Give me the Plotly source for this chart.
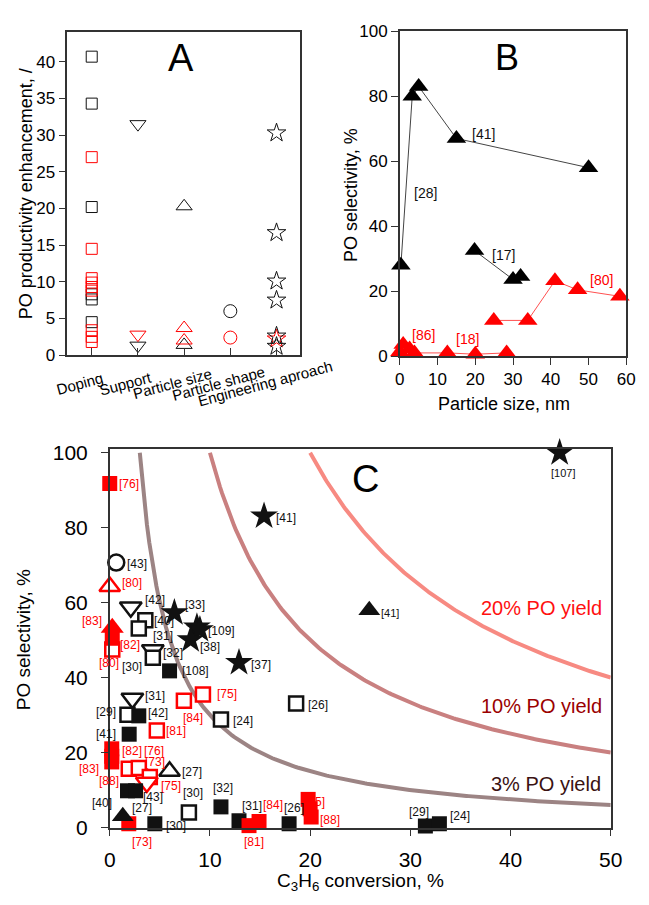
import numpy as np
import plotly.graph_objects as go

FONT = "Liberation Sans, Arial, sans-serif"
RED = "#ff0000"
BLK = "#111111"
AX = "#333333"
W, H = 649, 905

# ---------------- Panel A data ----------------
cats = ["Doping", "Support", "Particle size", "Particle shape", "Engineering aproach"]
a_doping_black = [40.7, 34.3, 20.2, 8.3, 7.6, 4.5]
a_doping_red = [27.0, 14.5, 10.5, 9.9, 9.3, 8.8, 3.4, 2.5, 1.8]
a_support_black = [31.5, 1.3]
a_support_red = [2.8]
a_size_black = [20.3, 1.4]
a_size_red = [3.7, 2.0]
a_shape_black = [6.0]
a_shape_red = [2.4]
a_eng_black = [30.3, 16.7, 10.1, 7.5, 2.6, 1.2]
a_eng_red = [2.2]

# ---------------- Panel B data ----------------
b_k1_x = [0.3, 3.3, 5.0, 15.0, 50.0]
b_k1_y = [28.0, 80.0, 83.0, 67.0, 58.0]
b_k2_x = [19.8, 30.0, 32.0]
b_k2_y = [32.5, 23.6, 24.5]
b_r1_x = [0.0, 0.9, 2.6, 3.9, 12.6, 20.0, 28.3]
b_r1_y = [1.3, 3.6, 2.2, 1.0, 1.0, 0.6, 1.0]
b_r2_x = [24.9, 33.9, 41.1, 47.1, 58.3]
b_r2_y = [11.0, 11.0, 23.2, 20.4, 18.4]
b_labels = [("[41]", 22.3, 68.5, BLK), ("[28]", 6.9, 50.3, BLK), ("[17]", 27.4, 31.0, BLK),
            ("[80]", 53.5, 23.5, RED), ("[86]", 6.25, 6.5, RED), ("[18]", 18.0, 5.3, RED)]

# ---------------- Panel C data ----------------
C_XMAX, C_YMAX = 50, 101
yields = [3, 10, 20]
yield_colors = ["#9c8484", "#c98080", "#f78a82"]
yield_text = ["3% PO yield", "10% PO yield", "20% PO yield"]
yield_text_colors = ["#3a1212", "#9a0000", "#ff1010"]

c_ksq_fill_x = [5.97, 2.9, 1.94, 1.77, 2.58, 4.5, 11.1, 12.9, 17.9, 31.5, 32.9]
c_ksq_fill_y = [41.8, 29.8, 24.9, 9.8, 9.8, 1.0, 5.5, 1.8, 1.0, 0.4, 1.0]
c_ksq_open_x = [3.55, 2.9, 4.3, 11.1, 18.6, 1.77, 7.9]
c_ksq_open_y = [55.3, 53.1, 45.3, 28.8, 33.1, 30.1, 4.0]
c_ktd_open_x = [2.1, 2.26, 4.3]
c_ktd_open_y = [58.8, 34.4, 47.4]
c_ktu_open_x = [5.97]
c_ktu_open_y = [15.0]
c_kci_open_x = [0.65]
c_kci_open_y = [70.7]
c_ktu_fill_x = [1.3, 25.9]
c_ktu_fill_y = [3.0, 58.0]
c_kstar_x = [6.45, 8.7, 9.0, 8.07, 12.9, 15.4, 44.9]
c_kstar_y = [57.3, 53.5, 52.8, 50.1, 44.0, 83.1, 100.0]
c_rsq_fill_x = [0.0, 0.25, 0.2, 0.2, 0.2, 1.9, 13.9, 14.9, 19.8, 20.0, 20.1]
c_rsq_fill_y = [91.8, 50.5, 21.0, 19.0, 17.5, 1.0, 0.5, 1.6, 7.5, 5.0, 2.8]
c_rsq_open_x = [0.25, 9.3, 7.4, 4.7, 1.9, 2.9, 4.0]
c_rsq_open_y = [47.5, 35.5, 33.8, 25.9, 15.7, 15.9, 13.5]
c_rtu_fill_x = [0.25]
c_rtu_fill_y = [53.3]
c_rtu_open_x = [0.0]
c_rtu_open_y = [64.3]
c_rtd_open_x = [3.7]
c_rtd_open_y = [12.0]

c_labels = [
    ("[76]", 0.97, 91.8, RED), ("[43]", 1.71, 70.3, BLK), ("[80]", 1.22, 65.3, RED),
    ("[42]", 3.55, 60.8, BLK), ("[33]", 7.5, 59.5, BLK), ("[83]", -2.8, 55.0, RED),
    ("[40]", 4.46, 55.0, BLK), ("[109]", 9.85, 52.4, BLK), ("[31]", 4.3, 51.0, BLK),
    ("[82]", 1.03, 48.8, RED), ("[38]", 9.04, 48.1, BLK), ("[32]", 5.33, 46.6, BLK),
    ("[80]", -1.1, 44.0, RED), ("[30]", 1.19, 42.8, BLK), ("[108]", 7.2, 41.8, BLK),
    ("[37]", 14.1, 43.4, BLK), ("[41]", 16.6, 82.5, BLK), ("[75]", 10.7, 35.7, RED),
    ("[84]", 7.3, 29.2, RED), ("[26]", 19.8, 32.7, BLK), ("[24]", 12.3, 28.5, BLK),
    ("[81]", 5.6, 25.7, RED), ("[31]", 3.5, 35.0, BLK), ("[42]", 3.8, 30.5, BLK),
    ("[29]", -1.4, 30.7, BLK), ("[41]", -1.35, 24.9, BLK), ("[82]", 1.2, 20.5, RED),
    ("[76]", 3.45, 20.5, RED), ("[83]", -3.1, 15.7, RED), ("[73]", 3.55, 17.5, RED),
    ("[27]", 7.2, 14.9, BLK), ("[88]", -1.1, 12.4, RED), ("[75]", 5.16, 11.0, RED),
    ("[43]", 3.3, 8.1, BLK), ("[40]", -1.8, 6.6, BLK), ("[30]", 7.27, 9.2, BLK),
    ("[32]", 10.3, 10.5, BLK), ("[27]", 2.26, 5.1, BLK), ("[30]", 5.65, 0.3, BLK),
    ("[73]", 2.26, -3.8, RED), ("[31]", 13.2, 5.7, BLK), ("[84]", 15.3, 6.0, RED),
    ("[81]", 13.4, -3.8, RED), ("[26]", 17.4, 5.1, BLK),
    ("[88]", 21.0, 2.0, RED), ("[29]", 29.9, 4.2, BLK), ("[24]", 34.0, 3.1, BLK),
]
c_hidden_labels = [("[85]", 19.5, 6.6, RED)]   # partly hidden behind the red squares
c_small_labels = [("[107]", 45.2, 94.6, BLK, "center"), ("[41]", 27.1, 57.3, BLK, "left")]

fig = go.Figure()

# ---------- Panel A traces ----------
def a_trace(cat, vals, symbol, color, size, lw=1.0):
    fig.add_trace(go.Scatter(x=[cat] * len(vals), y=vals, mode="markers", xaxis="x", yaxis="y",
                             marker=dict(symbol=symbol, size=size, color=color,
                                         line=dict(color=color, width=lw)),
                             cliponaxis=False, showlegend=False, hoverinfo="skip"))

a_trace(cats[0], a_doping_black, "square-open", BLK, 11)
a_trace(cats[0], a_doping_red, "square-open", RED, 11)
a_trace(cats[1], a_support_black, "triangle-down-open", BLK, 14)
a_trace(cats[1], a_support_red, "triangle-down-open", RED, 14)
a_trace(cats[2], a_size_black, "triangle-up-open", BLK, 14)
a_trace(cats[2], a_size_red, "triangle-up-open", RED, 14)
a_trace(cats[3], a_shape_black, "circle-open", BLK, 13)
a_trace(cats[3], a_shape_red, "circle-open", RED, 13)
a_trace(cats[4], a_eng_red, "star-open", RED, 14)
a_trace(cats[4], a_eng_black, "star-open", BLK, 14)

# ---------- Panel B traces ----------
for xs, ys, col, lcol in [(b_k1_x, b_k1_y, "black", "#444444"), (b_k2_x, b_k2_y, "black", "#444444"),
                          (b_r1_x, b_r1_y, RED, "#ff5050"), (b_r2_x, b_r2_y, RED, "#ff5050")]:
    fig.add_trace(go.Scatter(x=xs, y=ys, mode="lines+markers", xaxis="x2", yaxis="y2",
                             line=dict(color=lcol, width=1),
                             marker=dict(symbol="triangle-up", size=17, color=col),
                             cliponaxis=False, showlegend=False, hoverinfo="skip"))

# ---------- Panel C traces ----------
for yv, col in zip(yields, yield_colors):
    xs = np.linspace(yv, C_XMAX, 200)
    fig.add_trace(go.Scatter(x=xs, y=yv * 100.0 / xs, mode="lines", xaxis="x3", yaxis="y3",
                             line=dict(color=col, width=4), showlegend=False, hoverinfo="skip"))

fig.add_trace(go.Scatter(x=[l[1] for l in c_hidden_labels], y=[l[2] for l in c_hidden_labels],
                         text=[l[0] for l in c_hidden_labels], mode="text", textposition="middle right",
                         textfont=dict(family=FONT, size=12, color=RED),
                         xaxis="x3", yaxis="y3", showlegend=False, hoverinfo="skip"))

def c_trace(xs, ys, symbol, fill, edge, size, lw=2.5):
    fig.add_trace(go.Scatter(x=xs, y=ys, mode="markers", xaxis="x3", yaxis="y3",
                             marker=dict(symbol=symbol, size=size, color=fill,
                                         line=dict(color=edge, width=lw)),
                             cliponaxis=False, showlegend=False, hoverinfo="skip"))

c_trace(c_ktd_open_x, c_ktd_open_y, "triangle-down", "white", BLK, 19)
c_trace(c_ksq_open_x, c_ksq_open_y, "square", "white", BLK, 14)
c_trace(c_rsq_open_x, c_rsq_open_y, "square", "white", RED, 14)
c_trace(c_rtd_open_x, c_rtd_open_y, "triangle-down", "white", RED, 19)
c_trace(c_ksq_fill_x, c_ksq_fill_y, "square", BLK, BLK, 15, 0)
c_trace(c_rsq_fill_x, c_rsq_fill_y, "square", RED, RED, 15, 0)
c_trace(c_rtu_fill_x, c_rtu_fill_y, "triangle-up", RED, RED, 20, 0)
c_trace(c_rtu_open_x, c_rtu_open_y, "triangle-up", "white", RED, 18)
c_trace(c_ktu_open_x, c_ktu_open_y, "triangle-up", "white", BLK, 18)
c_trace(c_kci_open_x, c_kci_open_y, "circle", "white", BLK, 16)
c_trace(c_ktu_fill_x, c_ktu_fill_y, "triangle-up", BLK, BLK, 19, 0)
c_trace(c_kstar_x, c_kstar_y, "star", BLK, BLK, 21, 0)

# ---------- Axes ----------
def px_x(p): return p / W
def px_y(p): return 1 - p / H

common = dict(showgrid=False, zeroline=False, showline=True, linecolor=AX, linewidth=1.5,
              mirror=True, ticks="outside", ticklen=7, tickcolor=AX, tickwidth=1.2)

fig.update_layout(
    width=W, height=H, margin=dict(l=0, r=0, t=0, b=0),
    paper_bgcolor="white", plot_bgcolor="white",
    font=dict(family=FONT, color="black"),
    xaxis=dict(domain=[px_x(63), px_x(302)], type="category", categoryorder="array",
               categoryarray=cats, range=[-0.53, 4.5], showticklabels=False,
               showgrid=False, zeroline=False, showline=True, linecolor=AX, linewidth=1.5,
               mirror=True, ticks="inside", ticklen=7, tickcolor=AX, anchor="y"),
    yaxis=dict(domain=[px_y(354), px_y(24)], range=[0, 44], tickvals=[0, 5, 10, 15, 20, 25, 30, 35, 40],
               tickfont=dict(size=17), anchor="x", **common),
    xaxis2=dict(domain=[px_x(405), px_x(638)], range=[0, 60], tickvals=[0, 10, 20, 30, 40, 50, 60],
                tickfont=dict(size=17), anchor="y2", **common),
    yaxis2=dict(domain=[px_y(355), px_y(22.7)], range=[0, 100], tickvals=[0, 20, 40, 60, 80, 100],
                tickfont=dict(size=17), anchor="x2", **common),
    xaxis3=dict(domain=[px_x(106.7), px_x(622)], range=[0, C_XMAX], tickvals=[0, 10, 20, 30, 40, 50],
                tickfont=dict(size=21), ticklabelstandoff=6, anchor="y3", **common),
    yaxis3=dict(domain=[px_y(837), px_y(450)], range=[0, C_YMAX], tickvals=[0, 20, 40, 60, 80, 100],
                tickfont=dict(size=21), ticklabelstandoff=9, anchor="x3", **common),
)

ann = []

def pa(x, y, text, size, color="black", angle=0):
    ann.append(dict(x=px_x(x), y=px_y(y), xref="paper", yref="paper", text=text, showarrow=False,
                    xanchor="center", yanchor="middle", textangle=angle,
                    font=dict(size=size, family=FONT, color=color)))

# category labels A
for c in cats:
    ann.append(dict(x=c, y=px_y(383), xref="x", yref="paper", text=c, showarrow=False,
                    xanchor="center", yanchor="middle",
                    textangle=-15, xshift=-12, font=dict(size=15, family=FONT)))
# panel letters
pa(180, 50, "A", 38)
pa(515, 50, "B", 36)
pa(370, 481, "C", 38)
# axis titles
pa(20, 189, "PO productivity enhancement, /", 18, angle=-90)
pa(355, 190, "PO selectivity, %", 18, angle=-90)
pa(512, 404, "Particle size, nm", 18)
pa(18, 645, "PO selectivity, %", 19, angle=-90)
pa(365, 893, "C<sub>3</sub>H<sub>6</sub> conversion, %", 19)

# B labels
for t, x, y, col in b_labels:
    ann.append(dict(x=x, y=y, xref="x2", yref="y2", text=t, showarrow=False,
                    xanchor="center", yanchor="middle",
                    font=dict(size=14, family=FONT, color=col)))
# C labels (positioned in the x3/y3 domain so that labels beyond the axis range stay visible)
for t, x, y, col in c_labels:
    ann.append(dict(x=x / C_XMAX, y=y / C_YMAX, xref="x3 domain", yref="y3 domain", text=t,
                    showarrow=False, xanchor="left", yanchor="middle", borderpad=0, borderwidth=0,
                    font=dict(size=12, family=FONT, color=col)))
for t, x, y, col, anc in c_small_labels:
    ann.append(dict(x=x / C_XMAX, y=y / C_YMAX, xref="x3 domain", yref="y3 domain", text=t,
                    showarrow=False, xanchor=anc, yanchor="middle", borderpad=0, borderwidth=0,
                    font=dict(size=11, family=FONT, color=col)))
# yield labels
ann.append(dict(x=49.3, y=58.5, xref="x3", yref="y3", text=yield_text[2], xanchor="right",
                yanchor="middle", showarrow=False,
                font=dict(size=20, family=FONT, color=yield_text_colors[2])))
ann.append(dict(x=49.3, y=32.3, xref="x3", yref="y3", text=yield_text[1], xanchor="right",
                yanchor="middle", showarrow=False,
                font=dict(size=20, family=FONT, color=yield_text_colors[1])))
ann.append(dict(x=37.8, y=11.5, xref="x3", yref="y3", text=yield_text[0], xanchor="left",
                yanchor="middle", showarrow=False,
                font=dict(size=20, family=FONT, color=yield_text_colors[0])))

fig.update_layout(annotations=ann)
fig.write_html("out.html")
